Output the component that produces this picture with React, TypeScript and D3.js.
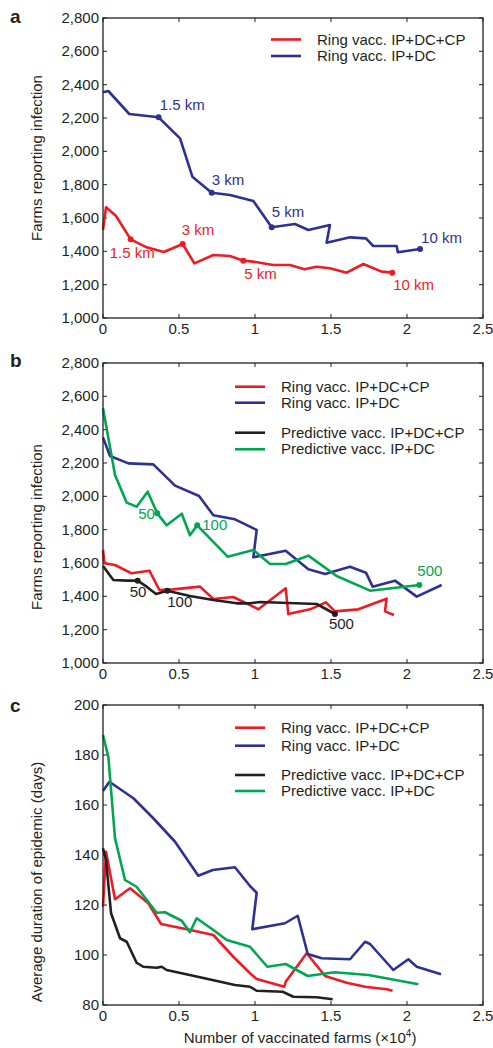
import React from "react";
import * as d3 from "d3";

// ---------- DATA ----------
const xTicks = [0, 0.5, 1, 1.5, 2, 2.5];
const farmTicks = [1000, 1200, 1400, 1600, 1800, 2000, 2200, 2400, 2600, 2800];
const dayTicks = [80, 100, 120, 140, 160, 180, 200];

const seriesNames = [
  "Ring vacc. IP+DC+CP",
  "Ring vacc. IP+DC",
  "Predictive vacc. IP+DC+CP",
  "Predictive vacc. IP+DC",
];

// Panel a
const aRingCP: [number, number][] = [
  [0, 1528], [0.02, 1664], [0.086, 1612], [0.182, 1472], [0.287, 1424], [0.401, 1396],
  [0.524, 1444], [0.601, 1328], [0.726, 1378], [0.836, 1372], [0.923, 1344], [0.989, 1338],
  [1.12, 1318], [1.23, 1318], [1.325, 1292], [1.405, 1308], [1.493, 1298], [1.603, 1272],
  [1.713, 1324], [1.833, 1278], [1.903, 1272],
];
const aRingDC: [number, number][] = [
  [0, 2354], [0.035, 2362], [0.173, 2224], [0.366, 2204], [0.507, 2078], [0.588, 1848],
  [0.715, 1752], [0.836, 1738], [0.989, 1702], [1.11, 1544], [1.263, 1564], [1.351, 1528],
  [1.493, 1558], [1.471, 1452], [1.625, 1484], [1.73, 1478], [1.778, 1432], [1.932, 1432],
  [1.94, 1394], [2.086, 1414],
];
const aRingCPMarks = [
  { x: 0.182, y: 1472, text: "1.5 km" },
  { x: 0.524, y: 1444, text: "3 km" },
  { x: 0.923, y: 1344, text: "5 km" },
  { x: 1.903, y: 1272, text: "10 km" },
];
const aRingDCMarks = [
  { x: 0.366, y: 2204, text: "1.5 km" },
  { x: 0.715, y: 1752, text: "3 km" },
  { x: 1.11, y: 1544, text: "5 km" },
  { x: 2.086, y: 1414, text: "10 km" },
];

// Panel b
const bRingCP: [number, number][] = [
  [0, 1678], [0.01, 1598], [0.079, 1588], [0.188, 1538], [0.305, 1554], [0.371, 1438],
  [0.463, 1442], [0.638, 1458], [0.726, 1384], [0.857, 1396], [0.967, 1348], [1.022, 1322],
  [1.202, 1448], [1.219, 1294], [1.362, 1322], [1.467, 1364], [1.526, 1310], [1.68, 1322],
  [1.866, 1386], [1.855, 1310], [1.914, 1288],
];
const bRingDC: [number, number][] = [
  [0, 2354], [0.046, 2242], [0.167, 2198], [0.331, 2192], [0.474, 2064], [0.632, 2002],
  [0.726, 1886], [0.868, 1862], [0.967, 1818], [1.011, 1798], [0.989, 1634], [1.202, 1674],
  [1.351, 1562], [1.461, 1534], [1.625, 1578], [1.73, 1542], [1.774, 1458], [1.921, 1494],
  [2.064, 1398], [2.228, 1468],
];
const bPredCP: [number, number][] = [
  [0, 1582], [0.068, 1498], [0.156, 1494], [0.228, 1494], [0.287, 1458], [0.349, 1414],
  [0.423, 1434], [0.572, 1402], [0.726, 1378], [0.88, 1358], [0.967, 1358], [1.033, 1366],
  [1.406, 1354], [1.526, 1294],
];
const bPredDC: [number, number][] = [
  [0, 2528], [0.079, 2128], [0.156, 1962], [0.221, 1938], [0.294, 2028], [0.357, 1898],
  [0.419, 1826], [0.518, 1896], [0.572, 1766], [0.62, 1826], [0.82, 1638], [0.989, 1678],
  [1.099, 1594], [1.202, 1594], [1.351, 1644], [1.537, 1522], [1.757, 1434], [2.081, 1468],
];
const bPredCPMarks = [
  { x: 0.228, y: 1494, text: "50" },
  { x: 0.423, y: 1434, text: "100" },
  { x: 1.526, y: 1294, text: "500" },
];
const bPredDCMarks = [
  { x: 0.357, y: 1898, text: "50" },
  { x: 0.62, y: 1826, text: "100" },
  { x: 2.081, y: 1468, text: "500" },
];

// Panel c
const cRingCP: [number, number][] = [
  [0, 119.3], [0.02, 141.3], [0.079, 122.3], [0.178, 126.7], [0.298, 120.7], [0.382, 112.4],
  [0.551, 110.3], [0.726, 108], [0.857, 99.3], [0.967, 92.7], [1.011, 90.4], [1.193, 87.3],
  [1.202, 89.3], [1.34, 100.7], [1.461, 91.6], [1.603, 88.9], [1.724, 87.3], [1.866, 86.3],
  [1.905, 85.7],
];
const cRingDC: [number, number][] = [
  [0, 165.6], [0.042, 169.3], [0.2, 162.7], [0.331, 154.7], [0.474, 145.3], [0.627, 131.7],
  [0.722, 134], [0.868, 135.1], [0.967, 127.6], [1.011, 124.9], [0.982, 110.3], [1.197, 112.7],
  [1.281, 115.7], [1.347, 100.4], [1.439, 98.7], [1.625, 98.3], [1.724, 105.3], [1.757, 104.4],
  [1.91, 94], [2.009, 98.3], [2.064, 95.3], [2.224, 92.3],
];
const cPredCP: [number, number][] = [
  [0, 142.7], [0.02, 138], [0.053, 116.7], [0.112, 106.7], [0.156, 105.3], [0.221, 96.9],
  [0.265, 95.3], [0.353, 94.9], [0.386, 95.3], [0.419, 94], [0.638, 91.1], [0.868, 88],
  [0.967, 87.3], [1.011, 85.7], [1.182, 85.3], [1.252, 83.3], [1.406, 83.1], [1.511, 82.3],
];
const cPredDC: [number, number][] = [
  [0, 188], [0.035, 179.3], [0.079, 146.7], [0.145, 130], [0.221, 127.3], [0.353, 116.9],
  [0.408, 117.1], [0.518, 113.7], [0.572, 109.1], [0.616, 114.7], [0.726, 110], [0.814, 106],
  [0.967, 103.3], [1.081, 95.3], [1.202, 96.4], [1.347, 91.6], [1.522, 93.1], [1.746, 92],
  [2.075, 88.3],
];

// ---------- STYLE / LAYOUT ----------
const W = 493;
const H = 1048;
const FONT = "'Liberation Sans', Arial, Helvetica, sans-serif";
const TXT = "#231f20";
const COLORS = ["#ed1c24", "#2e3192", "#231f20", "#00a651"];
const LW = 2.6;
const FS = 15;

const x = d3.scaleLinear().domain([0, 2.5]).range([103, 483]);
const fmtX = (v: number) => String(v);
const fmtComma = d3.format(",");

type Mark = { x: number; y: number; text: string };
type Series = { data: [number, number][]; color: string; marks?: Mark[]; offsets?: [number, number][] };

interface PanelProps {
  letter: string;
  letterY: number;
  top: number;
  bottom: number;
  yDomain: [number, number];
  yTicks: number[];
  yFmt: (v: number) => string;
  yTitle: string;
  yTitleCY: number;
  series: Series[];
  legendItems: { name: string; color: string; y: number }[];
  legendX: number;
}

function Panel(p: PanelProps) {
  const y = d3.scaleLinear().domain(p.yDomain).range([p.bottom, p.top]);
  const line = d3
    .line<[number, number]>()
    .x((d) => x(d[0]))
    .y((d) => y(d[1]));
  const L = x.range()[0];
  const R = x.range()[1];
  const tl = 4;
  return (
    <g fontFamily={FONT} fill={TXT}>
      <text x={10} y={p.letterY} fontSize={19} fontWeight={900}>
        {p.letter}
      </text>
      <text
        transform={`translate(42,${p.yTitleCY}) rotate(-90)`}
        textAnchor="middle"
        fontSize={FS}
      >
        {p.yTitle}
      </text>
      {p.yTicks.map((t) => (
        <g key={"y" + t}>
          <line x1={L} x2={L + tl} y1={y(t)} y2={y(t)} stroke={TXT} strokeWidth={1} />
          <line x1={R} x2={R - tl} y1={y(t)} y2={y(t)} stroke={TXT} strokeWidth={1} />
          <text x={L - 4} y={y(t) + 5} textAnchor="end" fontSize={FS}>
            {p.yFmt(t)}
          </text>
        </g>
      ))}
      {xTicks.map((t) => (
        <g key={"x" + t}>
          <line x1={x(t)} x2={x(t)} y1={p.bottom} y2={p.bottom - tl} stroke={TXT} strokeWidth={1} />
          <line x1={x(t)} x2={x(t)} y1={p.top} y2={p.top + tl} stroke={TXT} strokeWidth={1} />
          <text x={x(t)} y={p.bottom + 16} textAnchor="middle" fontSize={FS}>
            {fmtX(t)}
          </text>
        </g>
      ))}
      {p.series.map((s, i) => (
        <path
          key={"s" + i}
          d={line(s.data) || ""}
          fill="none"
          stroke={s.color}
          strokeWidth={LW}
          strokeLinejoin="round"
        />
      ))}
      {p.series.map((s, i) =>
        (s.marks || []).map((m, j) => (
          <g key={"m" + i + "-" + j}>
            <circle cx={x(m.x)} cy={y(m.y)} r={3} fill={s.color} />
            <text
              x={x(m.x) + (s.offsets ? s.offsets[j][0] : 0)}
              y={y(m.y) + (s.offsets ? s.offsets[j][1] : 0)}
              fontSize={FS}
              fill={s.color}
            >
              {m.text}
            </text>
          </g>
        ))
      )}
      <rect x={L} y={p.top} width={R - L} height={p.bottom - p.top} fill="none" stroke={TXT} strokeWidth={1.3} />
      {p.legendItems.map((it, i) => (
        <g key={"l" + i}>
          <line x1={p.legendX} x2={p.legendX + 30} y1={it.y} y2={it.y} stroke={it.color} strokeWidth={LW} />
          <text x={p.legendX + 46} y={it.y + 5} fontSize={FS}>
            {it.name}
          </text>
        </g>
      ))}
    </g>
  );
}

export default function App() {
  return (
    <svg
      width={W}
      height={H}
      viewBox={`0 0 ${W} ${H}`}
      style={{ position: "absolute", left: 0, top: 0, background: "#fff" }}
    >
      <rect width={W} height={H} fill="#fff" />
      <Panel
        letter="a"
        letterY={23}
        top={18}
        bottom={318}
        yDomain={[1000, 2800]}
        yTicks={farmTicks}
        yFmt={fmtComma}
        yTitle="Farms reporting infection"
        yTitleCY={158}
        series={[
          {
            data: aRingCP,
            color: COLORS[0],
            marks: aRingCPMarks,
            offsets: [[-21, 19], [-1, -9], [1, 18], [1, 17]],
          },
          {
            data: aRingDC,
            color: COLORS[1],
            marks: aRingDCMarks,
            offsets: [[1, -7], [0, -8], [0, -10], [1, -6]],
          },
        ]}
        legendItems={[
          { name: seriesNames[0], color: COLORS[0], y: 39.5 },
          { name: seriesNames[1], color: COLORS[1], y: 56 },
        ]}
        legendX={271}
      />
      <Panel
        letter="b"
        letterY={367}
        top={363}
        bottom={663}
        yDomain={[1000, 2800]}
        yTicks={farmTicks}
        yFmt={fmtComma}
        yTitle="Farms reporting infection"
        yTitleCY={527}
        series={[
          { data: bRingCP, color: COLORS[0] },
          { data: bRingDC, color: COLORS[1] },
          {
            data: bPredCP,
            color: COLORS[2],
            marks: bPredCPMarks,
            offsets: [[-8, 16], [0, 16], [-6, 15]],
          },
          {
            data: bPredDC,
            color: COLORS[3],
            marks: bPredDCMarks,
            offsets: [[-19, 6], [5, 5], [-2, -9]],
          },
        ]}
        legendItems={[
          { name: seriesNames[0], color: COLORS[0], y: 386.7 },
          { name: seriesNames[1], color: COLORS[1], y: 402.7 },
          { name: seriesNames[2], color: COLORS[2], y: 432.7 },
          { name: seriesNames[3], color: COLORS[3], y: 449.3 },
        ]}
        legendX={235}
      />
      <Panel
        letter="c"
        letterY={712}
        top={705}
        bottom={1005}
        yDomain={[80, 200]}
        yTicks={dayTicks}
        yFmt={(v) => String(v)}
        yTitle="Average duration of epidemic (days)"
        yTitleCY={882}
        series={[
          { data: cRingCP, color: COLORS[0] },
          { data: cRingDC, color: COLORS[1] },
          { data: cPredCP, color: COLORS[2] },
          { data: cPredDC, color: COLORS[3] },
        ]}
        legendItems={[
          { name: seriesNames[0], color: COLORS[0], y: 727.7 },
          { name: seriesNames[1], color: COLORS[1], y: 745.7 },
          { name: seriesNames[2], color: COLORS[2], y: 775 },
          { name: seriesNames[3], color: COLORS[3], y: 791 },
        ]}
        legendX={235}
      />
      <text x={300} y={1043} textAnchor="middle" fontFamily={FONT} fontSize={FS} fill={TXT}>
        Number of vaccinated farms (×10
        <tspan fontSize={10} dy={-6}>4</tspan>
        <tspan dy={6}>)</tspan>
      </text>
    </svg>
  );
}
